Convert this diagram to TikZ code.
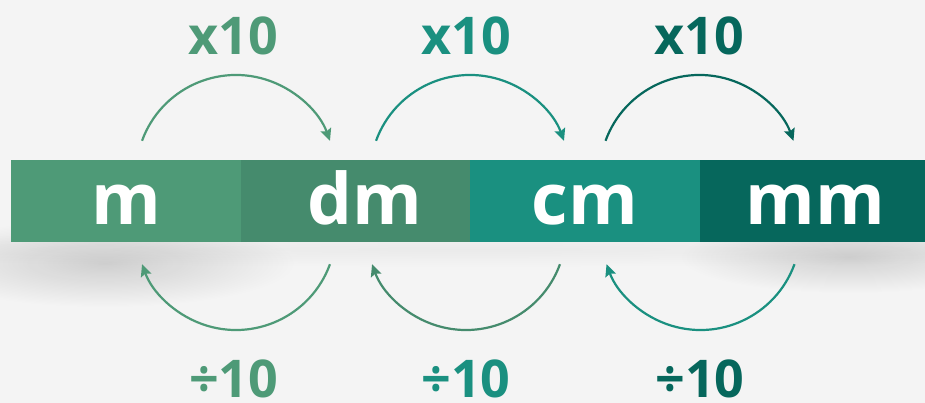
\documentclass[tikz,border=0pt]{standalone}
\usepackage{fontspec}
\setmainfont{Open Sans}
\usetikzlibrary{arrows.meta,fadings,calc}
\definecolor{bg}{HTML}{F4F4F4}
\definecolor{cM}{HTML}{4E9A77}
\definecolor{cDM}{HTML}{458B6D}
\definecolor{cCM}{HTML}{1A9080}
\definecolor{cMM}{HTML}{06675C}
\tikzfading[name=fuzzy, inner color=transparent!0, outer color=transparent!100]
\tikzset{
  seg/.style={draw=none, fill=#1, minimum height=82.7pt, inner sep=0pt, anchor=south west},
  unit/.style={text=white, font=\fontsize{71}{73}\selectfont\bfseries, anchor=base, inner sep=0pt},
  lab/.style={text=#1, font=\fontsize{52}{54}\selectfont\bfseries, anchor=base, inner sep=0pt},
  conv/.style={draw=#1, line width=2.2pt, -{Stealth[length=12pt,width=11pt,inset=2pt]}},
  shadowblob/.style={fill=black, path fading=fuzzy, fill opacity=#1}
}
\begin{document}
\begin{tikzpicture}[x=1pt,y=1pt]
\fill[bg] (0,0) rectangle (925,403);
\useasboundingbox (0,0) rectangle (925,403);
% shadow
\fill[shadowblob=0.15] (105,140) ellipse[x radius=190, y radius=44];
\fill[shadowblob=0.14] (850,146) ellipse[x radius=170, y radius=36];
\fill[shadowblob=0.04] (470,154) ellipse[x radius=800, y radius=18];
% bar segments
\node[seg=cM,  minimum width=229.7pt] (sm)  at (11,160.3) {};
\node[seg=cDM, minimum width=229.3pt] (sdm) at (240.7,160.3) {};
\node[seg=cCM, minimum width=230pt]   (scm) at (470,160.3) {};
\node[seg=cMM, minimum width=225pt]   (smm) at (700,160.3) {};
% unit texts
\node[unit] (tm)  at (126,178.5) {m};
\node[unit] (tdm) at (365,178.5) {dm};
\node[unit] (tcm) at (585,178.5) {cm};
\node[unit] (tmm) at (815,178.5) {mm};
% top labels
\node[lab=cM]  (x1) at (233.5,348.5) {x10};
\node[lab=cCM] (x2) at (466,348.5) {x10};
\node[lab=cMM] (x3) at (699.5,348.5) {x10};
% bottom labels
\node[lab=cM]  (d1) at (233.7,5) {÷10};
\node[lab=cCM] (d2) at (466,5) {÷10};
\node[lab=cMM] (d3) at (700,5) {÷10};
% arc endpoints
\coordinate (a1) at ($(236,228)+(160:100)$);
\coordinate (a2) at ($(470,228)+(160:100)$);
\coordinate (a3) at ($(699.5,228)+(160:100)$);
\coordinate (b1) at ($(236,173)+(-20:100)$);
\coordinate (b2) at ($(466,173)+(-20:100)$);
\coordinate (b3) at ($(700.5,173)+(-20:100)$);
% top arcs
\draw[conv=cM]  (a1) arc[start angle=160, end angle=20, radius=100];
\draw[conv=cCM] (a2) arc[start angle=160, end angle=20, radius=100];
\draw[conv=cMM] (a3) arc[start angle=160, end angle=20, radius=100];
% bottom arcs
\draw[conv=cM]  (b1) arc[start angle=-20, end angle=-160, radius=100];
\draw[conv=cDM] (b2) arc[start angle=-20, end angle=-160, radius=100];
\draw[conv=cCM] (b3) arc[start angle=-20, end angle=-160, radius=100];
\end{tikzpicture}
\end{document}
